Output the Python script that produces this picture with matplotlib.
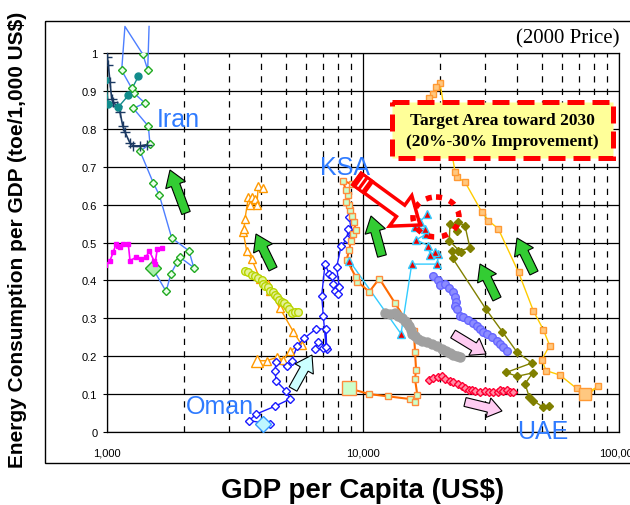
import numpy as np
import matplotlib.pyplot as plt
from matplotlib.patches import FancyArrow, Rectangle, Ellipse, Polygon
from matplotlib.transforms import Affine2D
from matplotlib.ticker import FixedLocator, FuncFormatter

plt.rcParams['font.family'] = ['Liberation Sans', 'DejaVu Sans']

# GDP per capita (2000 US$) and energy use per GDP (toe / 1,000 US$)
iran_gdp = [1508, 1701, 1778, 1882, 1928, 2182, 2090, 1789, 1601, 1517, 1346, 1472,
            1450, 1267, 1407, 1275, 1249, 1141, 1175, 1379, 1442, 1460]
iran_int = [0.432, 0.371, 0.418, 0.449, 0.461, 0.434, 0.478, 0.512, 0.625, 0.657, 0.741, 0.760,
            0.807, 0.854, 0.868, 0.894, 0.907, 0.954, 1.07, 0.997, 0.956, 1.07]

navy_gdp = [1000, 1012, 1027, 1043, 1055, 1090, 1124, 1152, 1176, 1230, 1263, 1346, 1429]
navy_int = [0.99, 0.968, 0.924, 0.879, 0.872, 0.86, 0.844, 0.808, 0.791, 0.762, 0.755, 0.755, 0.758]

teal_gdp = [985, 1013, 1106, 1211, 1326]
teal_int = [0.93, 0.865, 0.857, 0.888, 0.938]

magenta_gdp = [985, 1027, 1060, 1084, 1105, 1124, 1158, 1211, 1230, 1298, 1354, 1420, 1463,
               1526, 1540, 1572, 1636]
magenta_int = [0.44, 0.452, 0.476, 0.496, 0.49, 0.487, 0.496, 0.496, 0.452, 0.461, 0.456, 0.461,
               0.478, 0.452, 0.443, 0.483, 0.485]

tri_gdp = [3865, 4206, 4602, 4884, 5185, 5760, 5342, 4741, 4331, 4266, 3960, 3674, 3512, 3407,
           3429, 3459, 3565, 3674, 3785, 3620, 3850, 3899, 4079]
tri_int = [0.188, 0.188, 0.197, 0.191, 0.215, 0.23, 0.265, 0.326, 0.373, 0.39, 0.404, 0.456,
           0.478, 0.527, 0.536, 0.562, 0.619, 0.62, 0.615, 0.60, 0.60, 0.648, 0.643]

lime_gdp = [3459, 3565, 3674, 3785, 3899, 4018, 4054, 4140, 4266, 4331, 4461, 4530, 4626, 4708,
            4808, 4911, 5033, 5139, 5264, 5418, 5581]
lime_int = [0.426, 0.421, 0.414, 0.411, 0.406, 0.401, 0.391, 0.386, 0.382, 0.373, 0.369, 0.361,
            0.355, 0.349, 0.344, 0.34, 0.333, 0.325, 0.314, 0.317, 0.317]

oman_gdp = [4079, 4331, 3596, 3819, 4532, 5185, 4989, 4575, 4532, 4575, 5033, 5266, 5539, 5883,
            6553, 7170, 7213, 6995, 6493, 6690, 7170, 6995, 6898, 7106, 7385, 7546, 7656, 7772,
            8007, 8080, 7893, 8204, 8637, 8763, 9035, 8843]
oman_int = [0.021, 0.021, 0.030, 0.047, 0.068, 0.087, 0.109, 0.135, 0.162, 0.184, 0.173, 0.188,
            0.228, 0.247, 0.272, 0.272, 0.219, 0.221, 0.219, 0.238, 0.225, 0.307, 0.36, 0.443,
            0.417, 0.412, 0.39, 0.373, 0.364, 0.382, 0.435, 0.49, 0.509, 0.536, 0.522, 0.566]

ksa_gdp = [8843, 10583, 12561, 15264, 16000, 16297, 15963, 16119, 15963, 15807, 14893, 13335,
           11580, 10583, 9500, 9380, 8637, 8843, 8954, 9134, 9380, 9200, 9035, 8892, 8843, 8548,
           8763, 8548, 8366, 9035]
ksa_int = [0.115, 0.100, 0.094, 0.087, 0.080, 0.098, 0.140, 0.164, 0.212, 0.267, 0.289, 0.340,
           0.405, 0.370, 0.397, 0.408, 0.455, 0.481, 0.505, 0.522, 0.534, 0.553, 0.571, 0.587,
           0.599, 0.608, 0.625, 0.639, 0.663, 0.654]

cyan_gdp = [8843, 14074, 15500, 19510, 19700, 19100, 18300, 17950, 16119, 17650, 17400, 15963,
            16700, 17780]
cyan_int = [0.452, 0.259, 0.443, 0.443, 0.470, 0.474, 0.467, 0.492, 0.507, 0.522, 0.536, 0.540,
            0.555, 0.575]

grey_gdp = [12187, 12751, 13335, 13740, 14166, 14594, 14894, 15166, 15360, 15497, 15963, 16444,
            16954, 17740, 18550, 19400, 20290, 21090, 21870, 22530, 23230, 23930]
grey_int = [0.314, 0.311, 0.314, 0.307, 0.300, 0.294, 0.288, 0.280, 0.270, 0.259, 0.254, 0.245,
            0.241, 0.237, 0.232, 0.226, 0.219, 0.215, 0.208, 0.203, 0.200, 0.197]

violet_gdp = [18820, 19630, 19990, 20900, 21670, 22530, 22880, 23090, 22880, 23230, 23930, 24650,
              25720, 26970, 27880, 28640, 29510, 30510, 31910, 33290, 34290, 35320, 36420]
violet_int = [0.412, 0.401, 0.388, 0.390, 0.380, 0.369, 0.355, 0.344, 0.333, 0.325, 0.307, 0.303,
              0.296, 0.288, 0.280, 0.272, 0.263, 0.259, 0.250, 0.241, 0.232, 0.223, 0.215]

red_gdp = [18155, 18820, 19710, 20320, 20900, 21870, 22530, 23570, 24310, 25060, 25830, 26630,
           27450, 28640, 29980, 31170, 32330, 33530, 34290, 35320, 36420, 37540, 38680]
red_int = [0.138, 0.142, 0.144, 0.149, 0.140, 0.135, 0.131, 0.127, 0.122, 0.115, 0.112, 0.112,
           0.109, 0.106, 0.109, 0.105, 0.106, 0.106, 0.112, 0.109, 0.112, 0.106, 0.105]

olive_gdp = [53430, 50620, 46270, 44640, 42950, 46020, 40060, 36200, 45600, 39840, 34990, 30150,
             22410, 22240, 23570, 26180, 25030, 23570, 23230, 21870, 21730, 24080]
olive_int = [0.069, 0.065, 0.083, 0.092, 0.127, 0.156, 0.147, 0.157, 0.182, 0.212, 0.265, 0.325,
             0.458, 0.478, 0.478, 0.485, 0.544, 0.553, 0.531, 0.549, 0.505, 0.474]

uae_gdp = [73650, 83160, 75870, 72090, 68290, 58850, 51900, 49890, 53610, 50620, 46270, 40530,
           33780, 30900, 29080, 25060, 23370, 22880, 19970, 19280, 18820, 18155]
uae_int = [0.100, 0.121, 0.100, 0.100, 0.115, 0.150, 0.162, 0.191, 0.228, 0.270, 0.320, 0.421,
           0.536, 0.558, 0.581, 0.659, 0.672, 0.687, 0.921, 0.909, 0.892, 0.880]

y_ticks = np.round(np.arange(0, 1.01, 0.1), 1)
x_ticks = [1000, 10000, 100000]
x_tick_labels = ['1,000', '10,000', '100,000']

fig = plt.figure(figsize=(6.3, 5.06), dpi=100)
ax = fig.add_axes([107 / 630, 73 / 506, 512 / 630, 379 / 506])
# image pixel coordinates (origin top-left) for the decorations
pix = Affine2D().scale(1 / 100, -1 / 100).translate(0, 5.06) + fig.dpi_scale_trans

ax.set_xscale('log')
ax.set_xlim(1000, 100000)
ax.set_ylim(0, 1)


def series(x, y, color, marker, mfc, mec, ms, lw=1.0, start_ms=None, start_fc=None,
           start_ec=None, clip=True):
    x = np.asarray(x, float)
    y = np.asarray(y, float)
    ax.plot(x, y, color=color, lw=lw, zorder=3, clip_on=clip)
    inside = y <= 1.0
    ax.plot(x[inside], y[inside], ls='none', marker=marker, mfc=mfc, mec=mec, ms=ms, mew=1,
            zorder=4)
    if start_ms:
        ax.plot(x[:1], y[:1], ls='none', marker=marker, mfc=start_fc, mec=start_ec,
                ms=start_ms, mew=1, zorder=4)


series(iran_gdp, iran_int, '#4d7fff', 'D', '#eaffea', '#22aa22', 4.2,
       start_ms=8, start_fc='#aaeeaa', start_ec='#22aa22', clip=False)
series(navy_gdp, navy_int, '#1c3a63', '+', '#1c3a63', '#1c3a63', 7, lw=1.2)
series(teal_gdp, teal_int, '#128c8c', 'o', '#128c8c', '#128c8c', 5)
series(magenta_gdp, magenta_int, '#ff00ff', 's', '#ff00ff', '#ff00ff', 3.5, lw=1.2)
series(tri_gdp, tri_int, '#ff9900', '^', 'white', '#ff9900', 6,
       start_ms=9, start_fc='white', start_ec='#ff9900')
series(lime_gdp, lime_int, '#b8d400', 'o', '#e4f29a', '#b8d400', 5.5)
series(oman_gdp, oman_int, '#1a1aff', 'D', 'white', '#1a1aff', 4.2,
       start_ms=8, start_fc='#bff7ff', start_ec='#3399ff')
series(ksa_gdp, ksa_int, '#ff6a00', 's', '#ccffcc', '#ff8a3d', 5, lw=1.5,
       start_ms=10, start_fc='#ccffcc', start_ec='#ff8a3d')
series(cyan_gdp, cyan_int, '#33ccff', '^', '#ee0000', '#33ccff', 5.5)
series(grey_gdp, grey_int, '#a0a0a0', 'o', '#a0a0a0', '#a0a0a0', 6.5, lw=2)
series(violet_gdp, violet_int, '#6666ff', 'o', '#8c8cff', '#6666ff', 5.5)
series(red_gdp, red_int, '#ff0033', 'D', '#ff8fa6', '#ff0033', 4.2, lw=0.8)
series(olive_gdp, olive_int, '#808000', 'D', '#808000', '#808000', 4.2)
series(uae_gdp, uae_int, '#ffcc00', 's', '#ffc880', '#ff9933', 5,
       start_ms=9, start_fc='#ffc880', start_ec='#ff9933')

# grid: solid decades, dashed intermediate values
ax.xaxis.set_major_locator(FixedLocator(x_ticks))
ax.xaxis.set_minor_locator(FixedLocator([m * 10 ** d for d in (3, 4) for m in range(2, 10)]))
ax.set_xticklabels(x_tick_labels)
ax.xaxis.set_minor_formatter(FuncFormatter(lambda v, p: ''))
ax.set_yticks(y_ticks)
ax.yaxis.set_major_formatter(FuncFormatter(lambda v, p: '0' if v == 0 else ('1' if v == 1 else f'{v:.1f}')))
ax.grid(True, which='major', axis='both', color='black', lw=0.9, zorder=1)
ax.grid(True, which='minor', axis='x', color='black', lw=0.9, ls=(0, (5, 5)), zorder=1)
ax.set_axisbelow(True)
ax.tick_params(axis='x', which='major', labelsize=8, pad=11, length=0)
ax.tick_params(axis='x', which='minor', direction='in', length=3)
ax.tick_params(axis='y', labelsize=8, length=3, pad=4)
for s in ax.spines.values():
    s.set_color('black')
    s.set_linewidth(0.9)

ax.set_xlabel('GDP per Capita (US$)', fontsize=20, fontweight='bold', labelpad=14)
fig.text(18 / 630, 0.525, 'Energy Consumption per GDP (toe/1,000 US$)', rotation=90,
         fontsize=15, fontweight='bold', ha='center', va='center')

# country labels
lab = dict(color='#2f7bff', fontsize=18, va='center', ha='left')
ax.text(1567, 0.826, 'Iran', **lab)
ax.text(6790, 0.70, 'KSA', **lab)
ax.text(2036, 0.069, 'Oman', **lab)
ax.text(40020, 0.003, 'UAE', **lab)

# outer frame
fig.add_artist(Rectangle((45, 22), 620, 442, transform=pix, fill=False, ec='black', lw=1,
                         clip_on=False, zorder=0.5))
fig.text(620, 39, '(2000 Price)', transform=pix, ha='right', va='center',
         family=['Liberation Serif'], fontsize=15)


def block_arrow(p0, p1, width, head_w, head_l, fc, ec='black', lw=0.8):
    fig.add_artist(FancyArrow(p0[0], p0[1], p1[0] - p0[0], p1[1] - p0[1], width=width,
                              head_width=head_w, head_length=head_l,
                              length_includes_head=True, transform=pix,
                              fc=fc, ec=ec, lw=lw, zorder=5))


green_arrows = [((186, 214), (170, 171)), ((273, 270), (256, 235)), ((382, 257), (371, 217)),
                ((497, 300), (480, 265)), ((534, 274), (517, 239))]
for p0, p1 in green_arrows:
    block_arrow(p0, p1, 9, 21, 16, '#33cc33')
block_arrow((293, 390), (312, 356), 9, 21, 16, '#ccffff')
block_arrow((453, 335), (486, 355), 9, 20, 14, '#ffccf2')
block_arrow((465, 403), (502, 412), 9, 20, 14, '#ffccf2')

# red hollow arrow pointing into the target circle
t0 = np.array([357.0, 180.0])
t1 = np.array([420.0, 226.0])
block_arrow(t0, t1, 14, 38, 24, 'white', ec='red', lw=2.5)
u = (t1 - t0) / np.linalg.norm(t1 - t0)
n = np.array([-u[1], u[0]])
band = [t0 + n * 7, t0 - n * 7, t0 + u * 14 - n * 7, t0 + u * 14 + n * 7]
fig.add_artist(Polygon(band, closed=True, transform=pix, fc='red', ec='red', lw=2.5, zorder=6))
for f in (0.35, 0.7):
    c = t0 + u * 14 * f
    fig.add_artist(plt.Line2D([c[0] + n[0] * 5, c[0] - n[0] * 5], [c[1] + n[1] * 5, c[1] - n[1] * 5],
                              transform=pix, color='white', lw=1.2, zorder=7))

fig.add_artist(Ellipse((436, 218), 46, 40, transform=pix, fill=False, ec='red', lw=4,
                       ls=(0, (1.1, 1.4)), zorder=6))

# target area box
fig.add_artist(Rectangle((392, 103), 221, 56, transform=pix, fc='#ffff99', ec='red', lw=3.6,
                         ls=(0, (3.4, 1.6)), zorder=6))
fig.text(502.5, 121, 'Target Area toward 2030', transform=pix, ha='center', va='center',
         family=['Liberation Serif'], fontweight='bold', fontsize=12.5, zorder=7)
fig.text(502.5, 142, '(20%-30% Improvement)', transform=pix, ha='center', va='center',
         family=['Liberation Serif'], fontweight='bold', fontsize=12.5, zorder=7)

fig.savefig('out.png', dpi=100)
